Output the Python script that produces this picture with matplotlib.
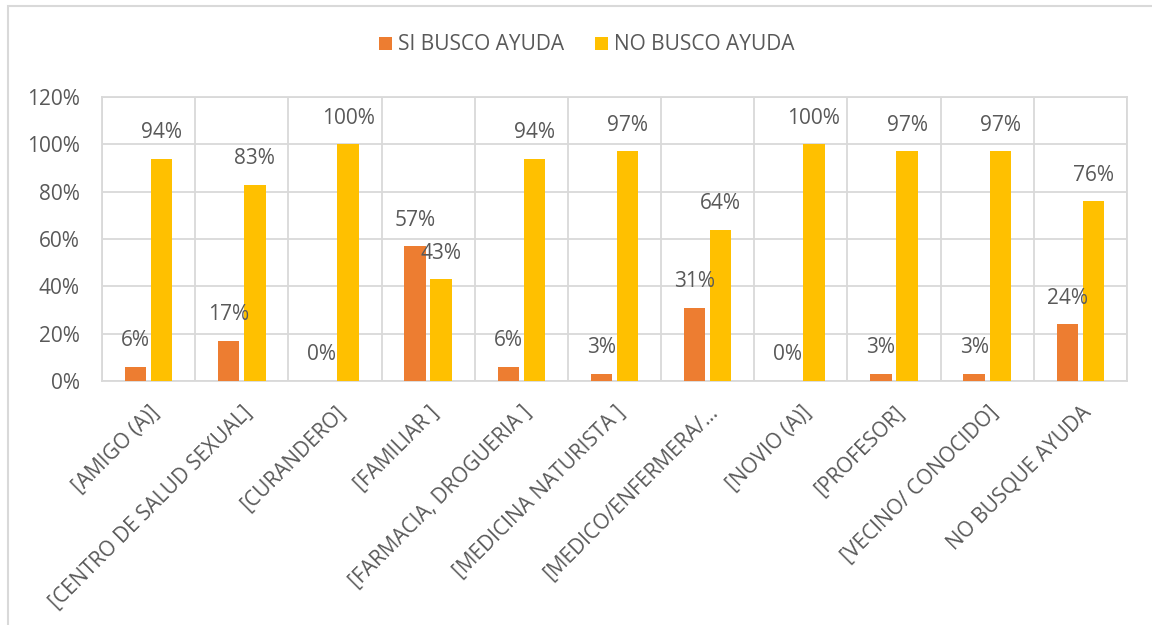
import numpy as np
import matplotlib.pyplot as plt
from matplotlib.patches import Rectangle

categorias = ["[AMIGO (A)]", "[CENTRO DE SALUD SEXUAL]", "[CURANDERO]", "[FAMILIAR ]",
              "[FARMACIA, DROGUERIA ]", "[MEDICINA NATURISTA ]", "[MEDICO/ENFERMERA/\u2026",
              "[NOVIO (A)]", "[PROFESOR]", "[VECINO/ CONOCIDO]", "NO BUSQUE AYUDA"]
si_busco = [6, 17, 0, 57, 6, 3, 31, 0, 3, 3, 24]
no_busco = [94, 83, 100, 43, 94, 97, 64, 100, 97, 97, 76]

plt.rcParams['font.family'] = ['Open Sans', 'DejaVu Sans']
gris = '#595959'
linea = '#D9D9D9'
fs = 15

fig = plt.figure(figsize=(11.52, 6.25), dpi=100)
ax = fig.add_axes([102 / 1152, 1 - 381 / 625, 1025 / 1152, 284 / 625])

x = np.arange(len(categorias))
w = 0.23
b1 = ax.bar(x - 0.14, si_busco, w, color='#ED7D31', label='SI BUSCO AYUDA', zorder=3)
b2 = ax.bar(x + 0.14, no_busco, w, color='#FFC000', label='NO BUSCO AYUDA', zorder=3)

for bars, vals in [(b1, si_busco), (b2, no_busco)]:
    for r, v in zip(bars, vals):
        ax.annotate(f'{v}%', (r.get_x() + r.get_width() / 2, v),
                    xytext=(0, 26), textcoords='offset pixels',
                    ha='center', va='center', fontsize=fs, color=gris, zorder=4)

ax.set_xlim(-0.5, len(categorias) - 0.5)
ax.set_ylim(0, 120)
ax.set_yticks(range(0, 121, 20))
ax.set_yticklabels([f'{t}%' for t in range(0, 121, 20)])
ax.set_xticks(x)
ax.set_xticklabels(categorias, rotation=45, ha='right', rotation_mode='anchor')
ax.tick_params(axis='both', length=0, labelsize=fs, labelcolor=gris)
ax.tick_params(axis='x', pad=15)
ax.tick_params(axis='y', pad=16)

ax.yaxis.grid(True, color=linea, linewidth=1.3, zorder=0)
for xb in np.arange(-0.5, len(categorias), 1.0):
    ax.axvline(xb, color=linea, linewidth=1.3, zorder=0)
for s in ax.spines.values():
    s.set_color(linea)
    s.set_linewidth(1.3)

fig.legend(handles=[b1, b2], loc='center', bbox_to_anchor=(0.5095, 1 - 45 / 625), ncol=2,
           frameon=False, fontsize=fs, labelcolor=gris, handlelength=0.6,
           handleheight=0.6, handletextpad=0.3, columnspacing=1.5)

fig.patches.append(Rectangle((8 / 1152, -0.1), 1.2, 1 - 6 / 625 + 0.1, transform=fig.transFigure,
                             fill=False, edgecolor=linea, linewidth=1.5))

fig.savefig('out.png', dpi=100)
